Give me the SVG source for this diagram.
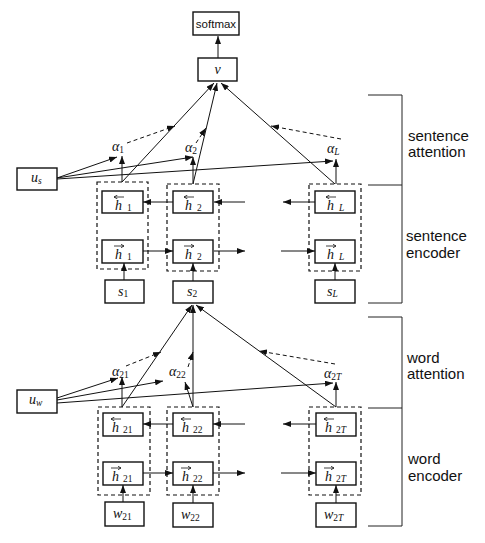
<svg xmlns="http://www.w3.org/2000/svg" width="485" height="543" viewBox="0 0 485 543">
  <style>
    .box { fill: #fff; stroke: #111; stroke-width: 1.4; }
    .grp { fill: none; stroke: #111; stroke-width: 1.2; stroke-dasharray: 4 3; }
    .ln { fill: none; stroke: #111; stroke-width: 1; marker-end: url(#ah); }
    .dl { fill: none; stroke: #111; stroke-width: 1; stroke-dasharray: 4 3; marker-end: url(#ah); }
    .br { fill: none; stroke: #222; stroke-width: 1; }
    .acc { fill: none; stroke: #111; stroke-width: 0.8; marker-end: url(#tip); }
    .m { font-family: "Liberation Serif", "Times New Roman", serif; font-style: italic; font-size: 14px; fill: #111; }
    .sb { font-size: 9.5px; font-style: normal; }
    .si { font-size: 9.5px; font-style: italic; }
    .lbl { font-family: "Liberation Sans", Arial, sans-serif; font-size: 15px; fill: #111; }
    .sm { font-family: "Liberation Sans", Arial, sans-serif; font-size: 11.5px; fill: #111; }
  </style>
  <defs>
    <marker id="ah" markerWidth="8" markerHeight="6" refX="8" refY="3" orient="auto" markerUnits="userSpaceOnUse">
      <path d="M0,0 L8,3 L0,6 z" fill="#111"/>
    </marker>
    <marker id="tip" markerWidth="4" markerHeight="4" refX="3.5" refY="2" orient="auto" markerUnits="userSpaceOnUse">
      <path d="M0,0 L3.5,2 L0,4" fill="none" stroke="#111" stroke-width="0.8"/>
    </marker>
  </defs>

  <!-- connectors -->
  <g id="connectors">
    <!-- output -->
    <line class="ln" x1="218" y1="58" x2="218" y2="36"/>
    <!-- sentence attention -->
    <line class="ln" x1="122" y1="182" x2="214" y2="83"/>
    <line class="ln" x1="193" y1="184" x2="217" y2="83"/>
    <line class="ln" x1="335" y1="184" x2="221" y2="83"/>
    <line class="ln" x1="122" y1="182" x2="122" y2="156"/>
    <line class="ln" x1="193" y1="184" x2="193" y2="157"/>
    <line class="ln" x1="336" y1="184" x2="336" y2="159"/>
    <line class="ln" x1="57" y1="178" x2="117" y2="157"/>
    <line class="ln" x1="57" y1="178" x2="193" y2="157"/>
    <line class="ln" x1="57" y1="179" x2="333" y2="161"/>
    <line class="dl" x1="127" y1="143" x2="175" y2="126"/>
    <line class="dl" x1="196" y1="143" x2="206" y2="128"/>
    <line class="dl" x1="341" y1="139" x2="271" y2="126"/>
    <!-- sentence encoder -->
    <line class="ln" x1="173" y1="202" x2="143" y2="202"/>
    <line class="ln" x1="245" y1="202" x2="214" y2="202"/>
    <line class="ln" x1="315" y1="202" x2="283" y2="202"/>
    <line class="ln" x1="143" y1="251" x2="173" y2="251"/>
    <line class="ln" x1="214" y1="251" x2="245" y2="251"/>
    <line class="ln" x1="281" y1="251" x2="315" y2="251"/>
    <line class="ln" x1="124" y1="280" x2="124" y2="263"/>
    <line class="ln" x1="193" y1="281" x2="193" y2="263"/>
    <line class="ln" x1="335" y1="280" x2="335" y2="263"/>
    <!-- word attention -->
    <line class="ln" x1="122" y1="407" x2="192" y2="305"/>
    <line class="ln" x1="193" y1="407" x2="193" y2="305"/>
    <line class="ln" x1="336" y1="407" x2="196" y2="305"/>
    <line class="ln" x1="122" y1="407" x2="122" y2="377"/>
    <line class="ln" x1="193" y1="407" x2="185" y2="382"/>
    <line class="ln" x1="336" y1="407" x2="336" y2="382"/>
    <line class="ln" x1="57" y1="398" x2="118" y2="378"/>
    <line class="ln" x1="57" y1="400" x2="163" y2="381"/>
    <line class="ln" x1="57" y1="403" x2="333" y2="383"/>
    <line class="dl" x1="126" y1="366" x2="161" y2="352"/>
    <line class="dl" x1="188" y1="367" x2="193" y2="352"/>
    <line class="dl" x1="335" y1="364" x2="259" y2="351"/>
    <!-- word encoder -->
    <line class="ln" x1="173" y1="424" x2="143" y2="424"/>
    <line class="ln" x1="245" y1="424" x2="213" y2="424"/>
    <line class="ln" x1="316" y1="424" x2="283" y2="424"/>
    <line class="ln" x1="143" y1="473" x2="173" y2="473"/>
    <line class="ln" x1="213" y1="473" x2="245" y2="473"/>
    <line class="ln" x1="281" y1="473" x2="316" y2="473"/>
    <line class="ln" x1="123" y1="502" x2="123" y2="485"/>
    <line class="ln" x1="193" y1="503" x2="193" y2="485"/>
    <line class="ln" x1="336" y1="503" x2="336" y2="485"/>
  </g>

  <!-- layer brackets -->
  <g id="brackets">
    <path class="br" d="M368,95 H402 V303 H368 M368,185 H402"/>
    <path class="br" d="M368,317 H402 V526 H368 M368,408 H402"/>
    <text class="lbl" x="408" y="141">sentence</text>
    <text class="lbl" x="408" y="157">attention</text>
    <text class="lbl" x="406" y="241">sentence</text>
    <text class="lbl" x="406" y="258">encoder</text>
    <text class="lbl" x="407" y="363">word</text>
    <text class="lbl" x="407" y="379">attention</text>
    <text class="lbl" x="408" y="464">word</text>
    <text class="lbl" x="408" y="481">encoder</text>
  </g>

  <!-- output nodes -->
  <g id="softmax">
    <rect class="box" x="193" y="12" width="46" height="23"/>
    <text class="sm" x="216" y="27.5" text-anchor="middle">softmax</text>
  </g>
  <g id="v">
    <rect class="box" x="198" y="58" width="39" height="23"/>
    <text class="m" x="217.5" y="74" text-anchor="middle">v</text>
  </g>

  <!-- sentence context vector -->
  <g id="us">
    <rect class="box" x="17" y="168" width="40" height="22"/>
    <text class="m" x="31" y="182">u<tspan class="si" dy="2">s</tspan></text>
  </g>

  <!-- sentence attention weights -->
  <g id="alpha1"><text class="m" x="112" y="151">α<tspan class="sb" dy="2">1</tspan></text></g>
  <g id="alpha2"><text class="m" x="185" y="152">α<tspan class="sb" dy="2">2</tspan></text></g>
  <g id="alphaL"><text class="m" x="327" y="153">α<tspan class="si" dy="2">L</tspan></text></g>

  <!-- sentence encoder columns -->
  <g id="sgrp1"><rect class="grp" x="97" y="182" width="51" height="87"/></g>
  <g id="sgrp2"><rect class="grp" x="167" y="184" width="52" height="87"/></g>
  <g id="sgrpL"><rect class="grp" x="309" y="184" width="52" height="87"/></g>

  <g id="hb1">
    <rect class="box" x="102" y="191" width="41" height="22"/>
    <line class="acc" x1="124" y1="197" x2="114" y2="197"/>
    <text class="m" x="115" y="209.5">h<tspan class="sb" x="127" dy="1.5">1</tspan></text>
  </g>
  <g id="hf1">
    <rect class="box" x="102" y="240" width="41" height="23"/>
    <line class="acc" x1="114" y1="246" x2="124" y2="246"/>
    <text class="m" x="115" y="258.5">h<tspan class="sb" x="127" dy="1.5">1</tspan></text>
  </g>
  <g id="hb2">
    <rect class="box" x="173" y="191" width="40" height="22"/>
    <line class="acc" x1="194" y1="197" x2="184" y2="197"/>
    <text class="m" x="185" y="209.5">h<tspan class="sb" x="197" dy="1.5">2</tspan></text>
  </g>
  <g id="hf2">
    <rect class="box" x="173" y="240" width="40" height="23"/>
    <line class="acc" x1="184" y1="246" x2="194" y2="246"/>
    <text class="m" x="185" y="258.5">h<tspan class="sb" x="197" dy="1.5">2</tspan></text>
  </g>
  <g id="hbL">
    <rect class="box" x="315" y="191" width="40" height="22"/>
    <line class="acc" x1="336" y1="197" x2="326" y2="197"/>
    <text class="m" x="327" y="209.5">h<tspan class="si" x="339" dy="1.5">L</tspan></text>
  </g>
  <g id="hfL">
    <rect class="box" x="315" y="240" width="40" height="23"/>
    <line class="acc" x1="326" y1="246" x2="336" y2="246"/>
    <text class="m" x="327" y="258.5">h<tspan class="si" x="339" dy="1.5">L</tspan></text>
  </g>

  <g id="s1">
    <rect class="box" x="105" y="280" width="39" height="23"/>
    <text class="m" x="118" y="295.5">s<tspan class="sb" dy="1.5">1</tspan></text>
  </g>
  <g id="s2">
    <rect class="box" x="173" y="281" width="40" height="22"/>
    <text class="m" x="187" y="295.5">s<tspan class="sb" dy="1.5">2</tspan></text>
  </g>
  <g id="sL">
    <rect class="box" x="315" y="280" width="40" height="23"/>
    <text class="m" x="327" y="295.5">s<tspan class="si" dy="1.5">L</tspan></text>
  </g>

  <!-- word context vector -->
  <g id="uw">
    <rect class="box" x="17" y="390" width="40" height="23"/>
    <text class="m" x="29" y="404">u<tspan class="si" dy="2">w</tspan></text>
  </g>

  <!-- word attention weights -->
  <g id="alpha21"><text class="m" x="112" y="376">α<tspan class="sb" dy="2">21</tspan></text></g>
  <g id="alpha22"><text class="m" x="169" y="376">α<tspan class="sb" dy="2">22</tspan></text></g>
  <g id="alpha2T"><text class="m" x="324" y="378">α<tspan class="sb" dy="2">2</tspan><tspan class="si">T</tspan></text></g>

  <!-- word encoder columns -->
  <g id="wgrp1"><rect class="grp" x="98" y="407" width="52" height="88"/></g>
  <g id="wgrp2"><rect class="grp" x="167" y="407" width="52" height="88"/></g>
  <g id="wgrpT"><rect class="grp" x="309" y="407" width="52" height="88"/></g>

  <g id="hb21">
    <rect class="box" x="103" y="413" width="40" height="23"/>
    <line class="acc" x1="121" y1="419" x2="111" y2="419"/>
    <text class="m" x="112" y="431.5">h<tspan class="sb" x="123" dy="1.5">21</tspan></text>
  </g>
  <g id="hf21">
    <rect class="box" x="103" y="462" width="40" height="23"/>
    <line class="acc" x1="111" y1="468" x2="121" y2="468"/>
    <text class="m" x="112" y="480.5">h<tspan class="sb" x="123" dy="1.5">21</tspan></text>
  </g>
  <g id="hb22">
    <rect class="box" x="173" y="413" width="40" height="23"/>
    <line class="acc" x1="191" y1="419" x2="181" y2="419"/>
    <text class="m" x="182" y="431.5">h<tspan class="sb" x="193" dy="1.5">22</tspan></text>
  </g>
  <g id="hf22">
    <rect class="box" x="173" y="462" width="40" height="23"/>
    <line class="acc" x1="181" y1="468" x2="191" y2="468"/>
    <text class="m" x="182" y="480.5">h<tspan class="sb" x="193" dy="1.5">22</tspan></text>
  </g>
  <g id="hb2T">
    <rect class="box" x="316" y="413" width="40" height="23"/>
    <line class="acc" x1="334" y1="419" x2="324" y2="419"/>
    <text class="m" x="325" y="431.5">h<tspan class="sb" x="336" dy="1.5">2</tspan><tspan class="si">T</tspan></text>
  </g>
  <g id="hf2T">
    <rect class="box" x="316" y="462" width="40" height="23"/>
    <line class="acc" x1="324" y1="468" x2="334" y2="468"/>
    <text class="m" x="325" y="480.5">h<tspan class="sb" x="336" dy="1.5">2</tspan><tspan class="si">T</tspan></text>
  </g>

  <g id="w21">
    <rect class="box" x="105" y="502" width="39" height="24"/>
    <text class="m" x="113" y="518">w<tspan class="sb" dy="1.5">21</tspan></text>
  </g>
  <g id="w22">
    <rect class="box" x="173" y="503" width="40" height="24"/>
    <text class="m" x="181" y="519">w<tspan class="sb" dy="1.5">22</tspan></text>
  </g>
  <g id="w2T">
    <rect class="box" x="316" y="503" width="40" height="24"/>
    <text class="m" x="324" y="519">w<tspan class="sb" dy="1.5">2</tspan><tspan class="si">T</tspan></text>
  </g>
</svg>
